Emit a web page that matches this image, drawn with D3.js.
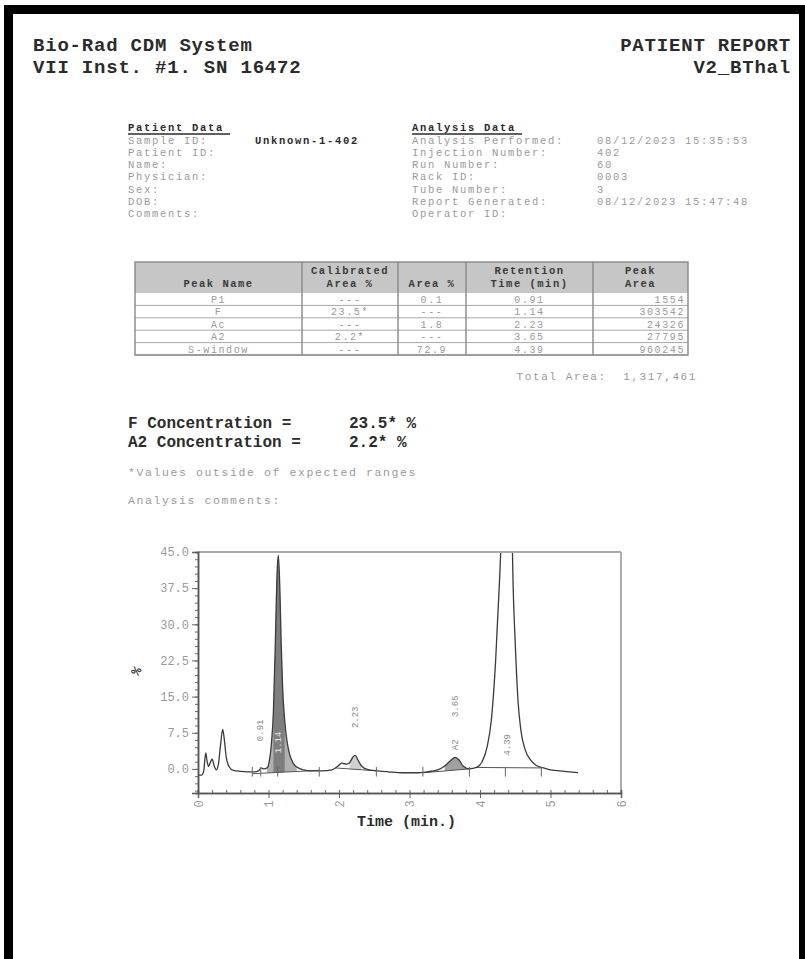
<!DOCTYPE html>
<html>
<head>
<meta charset="utf-8">
<script src="https://cdn.jsdelivr.net/npm/d3@7"></script>
<style>
body { margin: 0; background: #fff; }
svg { display: block; }
text { font-family: "Liberation Mono", "DejaVu Sans Mono", monospace; }
</style>
</head>
<body>
<script>
// report header
var headerLeft = ["Bio-Rad CDM System", "VII Inst. #1. SN 16472"];
var headerRight = ["PATIENT REPORT", "V2_BThal"];

var patientLabels = ["Sample ID:", "Patient ID:", "Name:", "Physician:", "Sex:", "DOB:", "Comments:"];
var patientValues = ["Unknown-1-402", "", "", "", "", "", ""];
var analysisLabels = ["Analysis Performed:", "Injection Number:", "Run Number:", "Rack ID:", "Tube Number:", "Report Generated:", "Operator ID:"];
var analysisValues = ["08/12/2023 15:35:53", "402", "60", "0003", "3", "08/12/2023 15:47:48", ""];

// peak table
var tableHeaders = [["", "Peak Name"], ["Calibrated", "Area %"], ["", "Area %"], ["Retention", "Time (min)"], ["Peak", "Area"]];
var peakNames = ["P1", "F", "Ac", "A2", "S-window"];
var calibratedArea = ["---", "23.5*", "---", "2.2*", "---"];
var areaPercent = ["0.1", "---", "1.8", "---", "72.9"];
var retentionTimes = ["0.91", "1.14", "2.23", "3.65", "4.39"];
var peakAreas = [1554, 303542, 24326, 27795, 960245];
var totalArea = 1317461;

var concNames = ["F Concentration =", "A2 Concentration ="];
var concValues = ["23.5* %", "2.2* %"];

// chromatogram (time in min, signal in %)
var timeMin = [0.00, 0.05, 0.08, 0.11, 0.13, 0.15, 0.18, 0.20, 0.23, 0.26, 0.29, 0.32, 0.35, 0.37, 0.40, 0.44, 0.50, 0.60, 0.70, 0.80,
  0.86, 0.90, 0.93, 0.98, 1.01, 1.04, 1.07, 1.10, 1.12, 1.14, 1.16, 1.18, 1.20, 1.23, 1.26, 1.30, 1.35, 1.40, 1.50, 1.60,
  1.75, 1.90, 1.98, 2.04, 2.10, 2.15, 2.20, 2.23, 2.27, 2.32, 2.40, 2.55, 2.70, 2.90, 3.10, 3.25, 3.40, 3.50, 3.58, 3.65,
  3.70, 3.76, 3.85, 3.95, 4.03, 4.10, 4.16, 4.22, 4.28, 4.32, 4.39, 4.44, 4.47, 4.50, 4.54, 4.58, 4.64, 4.72, 4.80, 4.90,
  5.00, 5.20, 5.39];
var signal = [-1.3, -1.3, -0.5, 3.3, 1.5, 0.5, 1.5, 2.0, 0.6, -0.2, 1.0, 5.0, 8.2, 6.5, 2.5, 0.5, -0.3, -0.5, -0.6, -0.6,
  -0.4, 0.2, 0.0, 0.2, 1.5, 5.0, 12, 28, 40, 44.3, 38, 26, 17, 10, 6, 3, 1.2, 0.4, -0.2, -0.4,
  -0.4, -0.2, 0.5, 1.2, 1.0, 1.3, 2.5, 2.8, 1.8, 0.6, -0.1, -0.4, -0.6, -0.8, -0.8, -0.6, -0.2, 0.6, 1.7, 2.4,
  1.9, 0.6, 0.0, 0.3, 1.5, 4.5, 10, 22, 40, 55, 80, 60, 38, 26, 14, 8, 4, 1.8, 0.7, 0.2,
  -0.2, -0.5, -0.8];

// integration baselines: [t0, v0, t1, v1]
var baselines = [[0.77, -1.0, 1.72, -0.3], [1.95, 0.2, 2.53, -0.4], [3.19, -0.8, 3.85, 0.0], [3.95, 0.3, 4.87, 0.2]];
// shaded regions: [from, to, baseline index]
var shadedPeaks = [[0.98, 1.45, 0], [1.07, 1.23, 0], [2.14, 2.36, 1], [3.42, 3.86, 2]];
var markerTimes = [0.77, 0.89, 1.13, 1.72, 2.53, 3.19, 3.85, 4.36, 4.87];

var yTicks = [0, 7.5, 15, 22.5, 30, 37.5, 45];
var xTicks = [0, 1, 2, 3, 4, 5, 6];

var svgWidth = 805;
var svgHeight = 959;

var svg = d3.select("body")
  .append("svg")
  .attr("width", svgWidth)
  .attr("height", svgHeight);

svg.append("rect").attr("width", svgWidth).attr("height", svgHeight).attr("fill", "#fff");

// scanned page frame
svg.append("rect").attr("x", 4).attr("y", 5).attr("width", 9).attr("height", 954).attr("fill", "#000");
svg.append("rect").attr("x", 4).attr("y", 5).attr("width", 801).attr("height", 9).attr("fill", "#000");
svg.append("rect").attr("x", 799).attr("y", 5).attr("width", 6).attr("height", 954).attr("fill", "#000");

var dark = "#2b2b2b";
var light = "#9a9a9a";

// title block
svg.selectAll(".hl").data(headerLeft).enter().append("text")
  .attr("x", 33).attr("y", (d, i) => 51 + i * 22)
  .attr("font-size", "19px").attr("letter-spacing", "0.8px").attr("font-weight", "bold").attr("fill", dark)
  .text(d => d);
svg.selectAll(".hr").data(headerRight).enter().append("text")
  .attr("x", 791).attr("y", (d, i) => 51 + i * 22)
  .attr("text-anchor", "end")
  .attr("font-size", "19px").attr("letter-spacing", "0.8px").attr("font-weight", "bold").attr("fill", dark)
  .text(d => d);

// info blocks
function infoBlock(x, valueX, title, labels, values, boldValues) {
  var g = svg.append("g");
  g.append("text").attr("x", x).attr("y", 131)
    .attr("font-size", "10.5px").attr("letter-spacing", "1.7px").attr("font-weight", "bold").attr("fill", dark)
    .text(title);
  var w = title.length * 8.0;
  g.append("line").attr("x1", x).attr("x2", x + w + 6).attr("y1", 134).attr("y2", 134)
    .attr("stroke", dark).attr("stroke-width", 1.4);
  g.selectAll(".lab").data(labels).enter().append("text")
    .attr("x", x).attr("y", (d, i) => 143.5 + i * 12.3)
    .attr("font-size", "10.5px").attr("letter-spacing", "1.7px").attr("fill", light)
    .text(d => d);
  g.selectAll(".val").data(values).enter().append("text")
    .attr("x", valueX).attr("y", (d, i) => 143.5 + i * 12.3)
    .attr("font-size", "10.5px").attr("letter-spacing", "1.7px")
    .attr("font-weight", boldValues ? "bold" : "normal")
    .attr("fill", boldValues ? dark : light)
    .text(d => d);
}
infoBlock(128, 255, "Patient Data", patientLabels, patientValues, true);
infoBlock(412, 597, "Analysis Data", analysisLabels, analysisValues, false);

// peak table
var colEdges = [135, 302, 398, 466, 593, 688];
var tableTop = 262;
var headerH = 31;
var rowY = d3.scaleBand().domain(peakNames).range([tableTop + headerH, tableTop + headerH + 62]);

var table = svg.append("g");
table.append("rect").attr("x", colEdges[0]).attr("y", tableTop)
  .attr("width", colEdges[5] - colEdges[0]).attr("height", headerH)
  .attr("fill", "#c6c6c6");
table.selectAll(".hrow").data(peakNames).enter().append("line")
  .attr("x1", colEdges[0]).attr("x2", colEdges[5])
  .attr("y1", d => rowY(d) + rowY.bandwidth()).attr("y2", d => rowY(d) + rowY.bandwidth())
  .attr("stroke", "#a8a8a8").attr("stroke-width", 1);
table.append("rect").attr("x", colEdges[0]).attr("y", tableTop)
  .attr("width", colEdges[5] - colEdges[0]).attr("height", headerH + 62)
  .attr("fill", "none").attr("stroke", "#888").attr("stroke-width", 1.4);
table.selectAll(".vcol").data(colEdges.slice(1, 5)).enter().append("line")
  .attr("x1", d => d).attr("x2", d => d)
  .attr("y1", tableTop).attr("y2", tableTop + headerH + 62)
  .attr("stroke", "#888").attr("stroke-width", 1.4);

tableHeaders.forEach((h, c) => {
  var cx = (colEdges[c] + colEdges[c + 1]) / 2;
  h.forEach((line, k) => {
    table.append("text").attr("x", cx).attr("y", tableTop + 12 + k * 13)
      .attr("text-anchor", "middle").attr("font-size", "10.5px").attr("letter-spacing", "1.5px")
      .attr("font-weight", "bold").attr("fill", "#3a3a3a").text(line);
  });
});

var columns = [peakNames, calibratedArea, areaPercent, retentionTimes, peakAreas];
columns.forEach((col, c) => {
  var right = c === 4;
  table.selectAll(".c" + c).data(col).enter().append("text")
    .attr("x", right ? colEdges[5] - 3 : (colEdges[c] + colEdges[c + 1]) / 2)
    .attr("y", (d, i) => rowY(peakNames[i]) + rowY.bandwidth() - 2.5)
    .attr("text-anchor", right ? "end" : "middle")
    .attr("font-size", "10px").attr("letter-spacing", "1.6px").attr("fill", light)
    .text(d => d);
});

svg.append("text").attr("x", 697).attr("y", 380).attr("text-anchor", "end")
  .attr("font-size", "11px").attr("letter-spacing", "1.6px").attr("fill", light)
  .attr("xml:space", "preserve")
  .text("Total Area:  " + d3.format(",")(totalArea));

// concentrations
concNames.forEach((n, i) => {
  svg.append("text").attr("x", 128).attr("y", 428 + i * 19)
    .attr("font-size", "16px").attr("font-weight", "bold").attr("fill", dark).text(n);
  svg.append("text").attr("x", 349).attr("y", 428 + i * 19)
    .attr("font-size", "16px").attr("font-weight", "bold").attr("fill", dark).text(concValues[i]);
});
svg.append("text").attr("x", 128).attr("y", 476)
  .attr("font-size", "11.5px").attr("letter-spacing", "1.6px").attr("fill", light).text("*Values outside of expected ranges");
svg.append("text").attr("x", 128).attr("y", 504)
  .attr("font-size", "11.5px").attr("letter-spacing", "1.6px").attr("fill", light).text("Analysis comments:");

// chromatogram
var plot = { left: 198, right: 621, top: 552, bottom: 793 };
var x = d3.scaleLinear().domain([0, 6]).range([plot.left, plot.right]);
var y = d3.scaleLinear().domain([-5, 45]).range([plot.bottom, plot.top]);

var chart = svg.append("g");
svg.append("clipPath").attr("id", "plotclip").append("rect")
  .attr("x", plot.left).attr("y", plot.top).attr("width", plot.right - plot.left).attr("height", plot.bottom - plot.top);

var pts = timeMin.map((t, i) => [t, signal[i]]);

function baseAt(b, t) {
  return b[1] + (b[3] - b[1]) * (t - b[0]) / (b[2] - b[0]);
}

var shadeFills = ["#b0b0b0", "#7e7e7e", "#d0d0d0", "#a0a0a0"];
shadedPeaks.forEach((s, k) => {
  var b = baselines[s[2]];
  var sub = pts.filter(p => p[0] >= s[0] && p[0] <= s[1]);
  chart.append("path").datum(sub)
    .attr("clip-path", "url(#plotclip)")
    .attr("fill", shadeFills[k]).attr("stroke", "none")
    .attr("d", d3.area().curve(d3.curveMonotoneX)
      .x(p => x(p[0])).y0(p => y(baseAt(b, p[0]))).y1(p => y(Math.max(p[1], baseAt(b, p[0])))));
});

chart.selectAll(".base").data(baselines).enter().append("line")
  .attr("x1", b => x(b[0])).attr("x2", b => x(b[2]))
  .attr("y1", b => y(b[1])).attr("y2", b => y(b[3]))
  .attr("stroke", "#555").attr("stroke-width", 1);

chart.append("path").datum(pts)
  .attr("clip-path", "url(#plotclip)")
  .attr("fill", "none").attr("stroke", "#3a3a3a").attr("stroke-width", 1.3)
  .attr("d", d3.line().curve(d3.curveMonotoneX).x(p => x(p[0])).y(p => y(p[1])));

chart.selectAll(".mark").data(markerTimes).enter().append("line")
  .attr("x1", t => x(t)).attr("x2", t => x(t))
  .attr("y1", y(-1.6)).attr("y2", y(0.4))
  .attr("stroke", "#666").attr("stroke-width", 1);

// peak labels (rotated retention times)
var labelTimes = [0.88, 1.14, 2.23, 3.65, 4.39];
var labelLevels = [8, 5.5, 10.7, 13, 5];
var labelFills = ["#8a8a8a", "#e2e2e2", "#8a8a8a", "#8a8a8a", "#8a8a8a"];
chart.selectAll(".plab").data(retentionTimes).enter().append("text")
  .attr("transform", (d, i) => `translate(${x(labelTimes[i]) + 3}, ${y(labelLevels[i])}) rotate(-90)`)
  .attr("text-anchor", "middle").attr("font-size", "9px").attr("fill", (d, i) => labelFills[i])
  .text(d => d);
chart.append("text")
  .attr("transform", `translate(${x(3.65) + 3}, ${y(5)}) rotate(-90)`)
  .attr("text-anchor", "middle").attr("font-size", "9px").attr("fill", "#8a8a8a")
  .text("A2");

// frame
chart.append("line").attr("x1", plot.left).attr("x2", plot.right).attr("y1", plot.top).attr("y2", plot.top)
  .attr("stroke", "#aaa").attr("stroke-width", 2);
chart.append("line").attr("x1", plot.right).attr("x2", plot.right).attr("y1", plot.top).attr("y2", plot.bottom)
  .attr("stroke", "#aaa").attr("stroke-width", 2);

// axes
var leftAxis = d3.axisLeft(y).tickValues(yTicks).tickSize(6).tickPadding(3).tickFormat(d3.format(".1f"));
var leftMinor = d3.axisLeft(y).tickValues(d3.range(-4.5, 45, 1.5)).tickSize(3).tickFormat("");
var bottomAxis = d3.axisBottom(x).tickValues(xTicks).tickSize(5).tickFormat(d3.format("d"));
var bottomMinor = d3.axisBottom(x).tickValues(d3.range(0.2, 6, 0.2)).tickSize(-3).tickFormat("");

var gy = chart.append("g").attr("transform", `translate(${plot.left},0)`).call(leftAxis);
chart.append("g").attr("transform", `translate(${plot.left},0)`).call(leftMinor);
var gx = chart.append("g").attr("transform", `translate(0,${plot.bottom})`).call(bottomAxis);
chart.append("g").attr("transform", `translate(0,${plot.bottom})`).call(bottomMinor);

chart.selectAll(".domain").attr("stroke", "#555").attr("stroke-width", 1.5);
chart.selectAll(".tick line").attr("stroke", "#666");
gy.selectAll("text").attr("font-family", "Liberation Mono").attr("font-size", "12px").attr("fill", light);
gx.selectAll("text")
  .attr("font-family", "Liberation Mono").attr("font-size", "12px").attr("fill", light)
  .attr("transform", "rotate(-90)").attr("text-anchor", "end").attr("dx", "-0.6em").attr("dy", "0.35em")
  .attr("x", 0).attr("y", 0);

chart.append("text")
  .attr("transform", `translate(140, 673) rotate(-60)`)
  .attr("text-anchor", "middle").attr("font-size", "13px").attr("font-weight", "bold").attr("fill", dark)
  .text("%");

chart.append("text").attr("x", 357).attr("y", 826)
  .attr("font-size", "15px").attr("font-weight", "bold").attr("fill", dark)
  .text("Time (min.)");
</script>
</body>
</html>
